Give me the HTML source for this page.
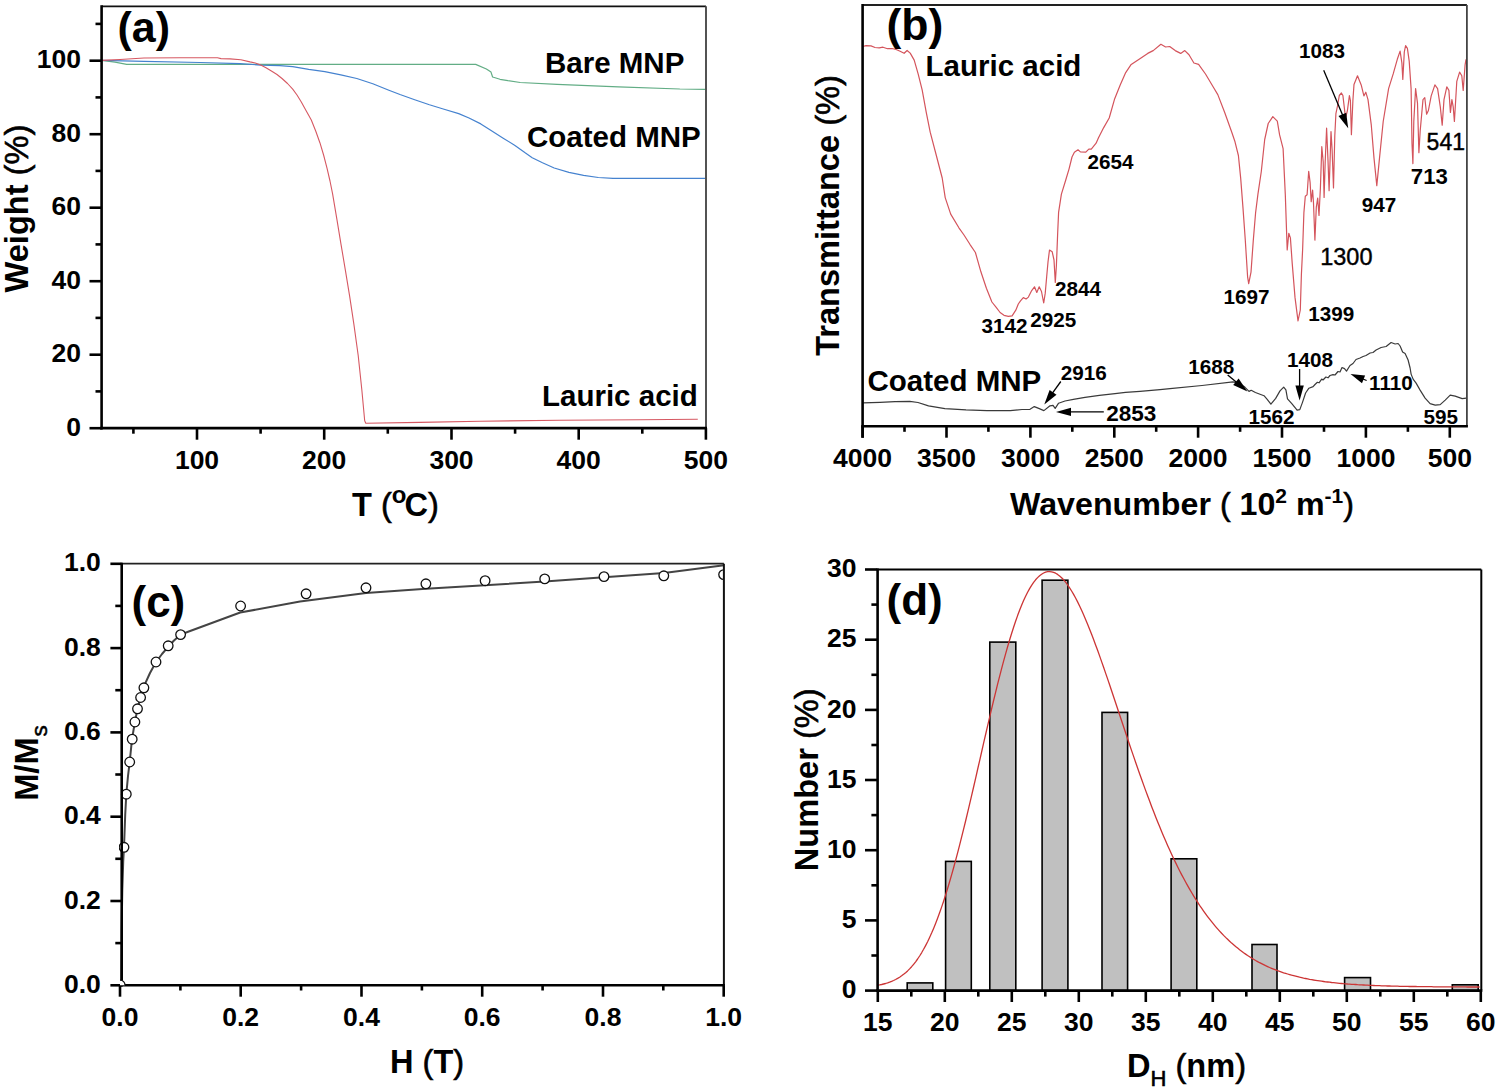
<!DOCTYPE html>
<html><head><meta charset="utf-8"><style>
html,body{margin:0;padding:0;background:#fff;overflow:hidden;}
svg{display:block;}
text{font-family:"Liberation Sans", sans-serif;}
</style></head><body>
<svg width="1498" height="1092" viewBox="0 0 1498 1092">
<rect width="1498" height="1092" fill="#fff"/>
<polyline points="101.6,60.4 115.0,62.2 126.7,64.4 200.0,64.4 300.0,64.4 400.0,64.4 475.7,64.4 486.4,69.0 491.0,72.1 492.6,77.0 500.0,79.3 507.9,80.7 520.2,82.5 557.0,84.4 618.4,86.8 679.8,89.0 705.0,89.3" fill="none" stroke="#62ad85" stroke-width="1.2" stroke-linejoin="round" />
<polyline points="101.6,60.4 144.0,61.3 200.0,62.5 240.0,63.6 260.7,65.1 279.9,65.7 292.7,66.7 308.7,69.4 324.8,71.6 340.8,74.8 356.8,78.5 372.8,83.8 388.9,90.2 400.0,94.5 414.7,99.7 429.4,104.8 444.1,109.2 458.7,113.6 469.0,118.0 480.8,123.9 491.1,130.5 502.8,137.9 514.6,145.2 524.8,152.6 532.2,157.7 542.5,162.8 554.2,168.0 568.9,172.4 583.6,175.3 598.3,177.5 613.0,178.3 705.0,178.3" fill="none" stroke="#4582cf" stroke-width="1.2" stroke-linejoin="round" />
<polyline points="101.6,60.4 120.0,59.5 144.0,58.0 180.0,57.8 217.5,57.8 221.0,58.6 230.0,58.9 240.9,59.8 250.0,61.9 255.3,63.0 260.7,65.1 266.0,67.8 271.4,71.0 277.0,74.5 282.0,78.5 287.5,83.5 292.7,89.2 297.0,95.0 301.3,102.0 306.0,110.5 311.3,120.0 315.7,131.0 319.9,142.7 323.6,155.0 327.0,168.2 330.0,181.0 332.6,193.8 336.9,219.3 341.1,244.8 345.4,270.4 349.6,295.9 353.9,324.3 358.2,355.5 361.8,389.5 364.7,420.7 365.8,423.2 420.0,422.4 480.0,421.2 560.0,420.3 640.0,419.8 697.8,419.3" fill="none" stroke="#d65862" stroke-width="1.1" stroke-linejoin="round" />
<line x1="89.5" y1="428.2" x2="101.6" y2="428.2" stroke="#000" stroke-width="2.6" />
<text x="81.0" y="435.8" font-size="26.5" text-anchor="end" font-weight="bold" fill="#000" >0</text>
<line x1="89.5" y1="354.7" x2="101.6" y2="354.7" stroke="#000" stroke-width="2.6" />
<text x="81.0" y="362.3" font-size="26.5" text-anchor="end" font-weight="bold" fill="#000" >20</text>
<line x1="89.5" y1="281.2" x2="101.6" y2="281.2" stroke="#000" stroke-width="2.6" />
<text x="81.0" y="288.8" font-size="26.5" text-anchor="end" font-weight="bold" fill="#000" >40</text>
<line x1="89.5" y1="207.7" x2="101.6" y2="207.7" stroke="#000" stroke-width="2.6" />
<text x="81.0" y="215.3" font-size="26.5" text-anchor="end" font-weight="bold" fill="#000" >60</text>
<line x1="89.5" y1="134.2" x2="101.6" y2="134.2" stroke="#000" stroke-width="2.6" />
<text x="81.0" y="141.8" font-size="26.5" text-anchor="end" font-weight="bold" fill="#000" >80</text>
<line x1="89.5" y1="60.7" x2="101.6" y2="60.7" stroke="#000" stroke-width="2.6" />
<text x="81.0" y="68.3" font-size="26.5" text-anchor="end" font-weight="bold" fill="#000" >100</text>
<line x1="95.5" y1="391.4" x2="101.6" y2="391.4" stroke="#000" stroke-width="2.6" />
<line x1="95.5" y1="317.9" x2="101.6" y2="317.9" stroke="#000" stroke-width="2.6" />
<line x1="95.5" y1="244.4" x2="101.6" y2="244.4" stroke="#000" stroke-width="2.6" />
<line x1="95.5" y1="170.9" x2="101.6" y2="170.9" stroke="#000" stroke-width="2.6" />
<line x1="95.5" y1="97.4" x2="101.6" y2="97.4" stroke="#000" stroke-width="2.6" />
<line x1="95.5" y1="23.9" x2="101.6" y2="23.9" stroke="#000" stroke-width="2.6" />
<line x1="197.0" y1="428.2" x2="197.0" y2="439.7" stroke="#000" stroke-width="2.6" />
<text x="197.0" y="468.8" font-size="26.5" text-anchor="middle" font-weight="bold" fill="#000" >100</text>
<line x1="324.2" y1="428.2" x2="324.2" y2="439.7" stroke="#000" stroke-width="2.6" />
<text x="324.2" y="468.8" font-size="26.5" text-anchor="middle" font-weight="bold" fill="#000" >200</text>
<line x1="451.5" y1="428.2" x2="451.5" y2="439.7" stroke="#000" stroke-width="2.6" />
<text x="451.5" y="468.8" font-size="26.5" text-anchor="middle" font-weight="bold" fill="#000" >300</text>
<line x1="578.7" y1="428.2" x2="578.7" y2="439.7" stroke="#000" stroke-width="2.6" />
<text x="578.7" y="468.8" font-size="26.5" text-anchor="middle" font-weight="bold" fill="#000" >400</text>
<line x1="705.9" y1="428.2" x2="705.9" y2="439.7" stroke="#000" stroke-width="2.6" />
<text x="705.9" y="468.8" font-size="26.5" text-anchor="middle" font-weight="bold" fill="#000" >500</text>
<line x1="133.4" y1="428.2" x2="133.4" y2="433.7" stroke="#000" stroke-width="2.6" />
<line x1="260.6" y1="428.2" x2="260.6" y2="433.7" stroke="#000" stroke-width="2.6" />
<line x1="387.8" y1="428.2" x2="387.8" y2="433.7" stroke="#000" stroke-width="2.6" />
<line x1="515.1" y1="428.2" x2="515.1" y2="433.7" stroke="#000" stroke-width="2.6" />
<line x1="642.3" y1="428.2" x2="642.3" y2="433.7" stroke="#000" stroke-width="2.6" />
<line x1="101.6" y1="6.3" x2="706.0" y2="6.3" stroke="#111" stroke-width="1.8" />
<line x1="706.0" y1="6.3" x2="706.0" y2="428.2" stroke="#4a4a4a" stroke-width="1.9" />
<line x1="101.6" y1="5.3" x2="101.6" y2="429.5" stroke="#000" stroke-width="2.6" />
<line x1="100.3" y1="428.2" x2="707.0" y2="428.2" stroke="#000" stroke-width="2.8" />
<text x="117.5" y="42.3" font-size="43" text-anchor="start" font-weight="bold" fill="#000" >(a)</text>
<text x="545.0" y="72.8" font-size="29.5" text-anchor="start" font-weight="bold" fill="#000" >Bare MNP</text>
<text x="527.0" y="146.6" font-size="29.5" text-anchor="start" font-weight="bold" fill="#000" >Coated MNP</text>
<text x="542.0" y="406.2" font-size="29.5" text-anchor="start" font-weight="bold" fill="#000" >Lauric acid</text>
<text x="352.0" y="516.0" font-size="32.6" text-anchor="start" font-weight="bold" fill="#000" >T <tspan font-weight="normal" stroke="#000" stroke-width="0.6">(</tspan><tspan font-size="24" dy="-13">o</tspan><tspan dy="13" dx="-2">C</tspan><tspan font-weight="normal" stroke="#000" stroke-width="0.6">)</tspan></text>
<text x="0.0" y="0.0" font-size="32.6" text-anchor="middle" font-weight="bold" fill="#000" transform="translate(27.8,208.6) rotate(-90)">Weight <tspan font-weight="normal" stroke="#000" stroke-width="0.6">(%)</tspan></text>
<polyline points="862.7,46.5 866.0,45.6 871.0,45.9 875.0,47.5 879.2,47.9 883.0,47.2 887.5,48.7 892.0,48.5 896.1,49.5 900.1,51.3 904.1,53.3 907.1,50.5 910.2,53.1 914.2,60.1 918.2,74.1 922.2,90.1 926.2,112.2 930.2,132.2 936.2,155.0 942.2,178.0 945.2,197.6 950.7,214.1 958.9,227.8 964.0,235.0 969.9,244.3 975.4,252.5 980.9,271.8 986.4,288.2 991.9,302.0 996.2,307.4 1000.1,312.5 1004.0,315.3 1008.3,316.3 1012.1,315.8 1015.8,310.2 1018.3,304.0 1020.5,300.8 1023.3,297.6 1026.1,299.0 1028.4,297.1 1031.7,290.6 1034.5,286.8 1036.8,292.4 1039.2,286.8 1041.5,291.5 1043.7,303.0 1045.2,293.4 1046.7,276.5 1048.0,262.0 1049.5,250.0 1052.2,251.8 1054.0,260.0 1055.3,282.5 1056.4,265.5 1057.7,232.6 1058.6,212.4 1061.4,194.1 1065.9,179.5 1069.0,169.1 1072.0,157.0 1074.4,152.2 1078.0,149.8 1080.4,151.9 1085.8,152.2 1088.8,149.2 1091.3,149.2 1096.1,143.2 1098.5,137.8 1103.7,127.6 1109.2,118.0 1114.7,98.7 1120.2,85.0 1125.7,72.6 1131.2,64.4 1139.5,58.9 1147.7,53.4 1153.2,50.6 1160.9,44.3 1165.6,47.0 1169.7,46.5 1175.2,50.6 1180.7,53.4 1184.8,50.6 1189.0,54.7 1193.9,63.0 1198.6,64.4 1205.5,74.0 1213.7,87.7 1217.8,94.6 1224.7,112.5 1231.6,131.7 1235.0,141.8 1238.4,155.5 1240.7,178.4 1243.0,208.1 1245.3,240.2 1247.6,276.8 1248.7,283.7 1251.0,272.2 1253.3,240.2 1255.6,212.7 1257.9,194.4 1261.3,171.5 1264.7,139.5 1268.2,123.5 1272.8,116.6 1277.3,121.2 1279.6,134.9 1283.1,148.6 1285.3,194.4 1287.2,250.0 1288.8,233.3 1290.4,237.9 1292.2,263.1 1295.0,297.4 1298.0,320.8 1300.3,310.0 1301.4,274.5 1302.6,250.0 1303.9,212.6 1305.3,196.2 1307.1,194.8 1308.7,171.4 1310.1,182.4 1311.2,201.6 1312.6,190.0 1313.5,203.0 1314.9,240.1 1316.3,207.1 1317.7,198.2 1319.0,215.4 1320.4,187.9 1321.8,146.7 1323.2,161.8 1324.1,197.5 1325.2,161.8 1326.6,128.2 1328.0,160.4 1329.1,190.7 1331.0,131.6 1332.1,149.5 1333.5,187.9 1334.8,135.7 1335.9,113.7 1337.6,105.5 1339.3,95.5 1341.4,93.0 1342.9,95.5 1344.9,112.6 1345.9,116.6 1347.4,110.6 1349.4,95.5 1350.4,100.5 1351.4,134.7 1352.9,100.5 1354.0,84.4 1357.5,75.8 1361.2,84.9 1363.9,95.9 1365.8,92.2 1368.0,99.6 1371.3,125.2 1374.0,158.1 1376.8,185.6 1379.5,158.1 1383.2,121.5 1388.6,88.6 1393.2,73.9 1397.3,59.3 1400.1,51.1 1401.9,63.0 1402.8,79.4 1404.3,52.0 1405.6,45.6 1407.4,48.3 1409.2,61.1 1411.1,88.6 1412.0,143.5 1412.9,163.6 1413.8,121.5 1415.6,88.6 1417.5,103.2 1418.9,152.7 1420.2,130.7 1423.0,99.6 1424.8,97.7 1426.6,114.2 1428.4,110.5 1431.2,95.9 1434.9,84.9 1437.6,88.6 1440.3,106.9 1442.2,125.2 1444.0,99.6 1446.8,86.8 1448.9,90.4 1450.4,112.4 1451.9,99.6 1453.2,106.9 1454.4,121.5 1456.8,81.3 1459.6,72.1 1461.8,75.8 1463.2,90.4 1465.1,64.8 1466.0,59.3" fill="none" stroke="#d4545c" stroke-width="1.2" stroke-linejoin="round" />
<polyline points="863.1,402.9 880.0,402.3 895.0,401.6 909.8,401.3 918.0,402.5 928.5,405.9 944.9,408.7 966.0,409.9 986.9,410.6 1010.3,410.6 1022.0,409.5 1030.0,409.3 1034.3,406.6 1038.7,408.4 1043.9,410.6 1050.0,405.8 1053.0,405.3 1055.2,408.4 1058.6,403.2 1065.0,401.0 1073.4,399.3 1085.0,397.3 1099.4,395.4 1115.0,393.6 1125.5,392.3 1140.0,391.3 1160.0,389.7 1170.0,388.7 1202.0,385.5 1233.0,381.8 1239.4,383.4 1244.8,387.1 1249.0,391.4 1251.2,390.3 1255.4,392.5 1264.0,395.7 1267.2,399.4 1270.9,404.2 1275.7,398.4 1280.0,390.9 1283.7,387.1 1285.9,389.8 1287.5,398.9 1291.8,403.7 1297.1,410.1 1299.8,409.6 1302.4,402.6 1305.6,393.0 1308.9,388.2 1313.1,386.6 1315.0,384.5 1317.4,382.3 1319.0,382.8 1321.7,379.1 1323.0,380.0 1325.9,377.0 1328.0,377.8 1330.0,375.5 1333.0,374.6 1335.0,375.0 1338.0,371.5 1340.0,372.0 1342.0,367.5 1344.5,368.6 1346.5,371.1 1350.0,365.5 1353.0,363.5 1356.0,359.5 1360.0,358.0 1363.1,356.5 1366.0,355.5 1370.1,353.0 1373.0,352.5 1376.1,350.0 1381.1,347.5 1386.1,346.5 1391.1,342.5 1395.1,344.0 1398.1,343.5 1400.1,346.0 1402.6,352.0 1405.1,353.5 1408.1,360.0 1410.1,368.0 1411.1,374.1 1413.1,379.1 1416.1,383.1 1420.1,390.1 1425.1,398.1 1430.1,403.6 1435.2,405.1 1440.2,404.6 1445.2,400.1 1450.2,395.1 1455.2,396.1 1462.2,398.6 1466.2,398.1" fill="none" stroke="#3a3a3a" stroke-width="1.2" stroke-linejoin="round" />
<line x1="862.6" y1="426.2" x2="862.6" y2="437.7" stroke="#000" stroke-width="2.6" />
<text x="862.6" y="467.3" font-size="26.5" text-anchor="middle" font-weight="bold" fill="#000" >4000</text>
<line x1="946.5" y1="426.2" x2="946.5" y2="437.7" stroke="#000" stroke-width="2.6" />
<text x="946.5" y="467.3" font-size="26.5" text-anchor="middle" font-weight="bold" fill="#000" >3500</text>
<line x1="1030.4" y1="426.2" x2="1030.4" y2="437.7" stroke="#000" stroke-width="2.6" />
<text x="1030.4" y="467.3" font-size="26.5" text-anchor="middle" font-weight="bold" fill="#000" >3000</text>
<line x1="1114.3" y1="426.2" x2="1114.3" y2="437.7" stroke="#000" stroke-width="2.6" />
<text x="1114.3" y="467.3" font-size="26.5" text-anchor="middle" font-weight="bold" fill="#000" >2500</text>
<line x1="1198.1" y1="426.2" x2="1198.1" y2="437.7" stroke="#000" stroke-width="2.6" />
<text x="1198.1" y="467.3" font-size="26.5" text-anchor="middle" font-weight="bold" fill="#000" >2000</text>
<line x1="1282.0" y1="426.2" x2="1282.0" y2="437.7" stroke="#000" stroke-width="2.6" />
<text x="1282.0" y="467.3" font-size="26.5" text-anchor="middle" font-weight="bold" fill="#000" >1500</text>
<line x1="1365.9" y1="426.2" x2="1365.9" y2="437.7" stroke="#000" stroke-width="2.6" />
<text x="1365.9" y="467.3" font-size="26.5" text-anchor="middle" font-weight="bold" fill="#000" >1000</text>
<line x1="1449.8" y1="426.2" x2="1449.8" y2="437.7" stroke="#000" stroke-width="2.6" />
<text x="1449.8" y="467.3" font-size="26.5" text-anchor="middle" font-weight="bold" fill="#000" >500</text>
<line x1="904.5" y1="426.2" x2="904.5" y2="431.8" stroke="#000" stroke-width="2.6" />
<line x1="988.4" y1="426.2" x2="988.4" y2="431.8" stroke="#000" stroke-width="2.6" />
<line x1="1072.3" y1="426.2" x2="1072.3" y2="431.8" stroke="#000" stroke-width="2.6" />
<line x1="1156.2" y1="426.2" x2="1156.2" y2="431.8" stroke="#000" stroke-width="2.6" />
<line x1="1240.1" y1="426.2" x2="1240.1" y2="431.8" stroke="#000" stroke-width="2.6" />
<line x1="1324.0" y1="426.2" x2="1324.0" y2="431.8" stroke="#000" stroke-width="2.6" />
<line x1="1407.9" y1="426.2" x2="1407.9" y2="431.8" stroke="#000" stroke-width="2.6" />
<line x1="862.6" y1="5.0" x2="1466.9" y2="5.0" stroke="#222" stroke-width="1.8" />
<line x1="1466.9" y1="5.0" x2="1466.9" y2="426.2" stroke="#444" stroke-width="1.8" />
<line x1="862.6" y1="4.0" x2="862.6" y2="437.7" stroke="#000" stroke-width="2.6" />
<line x1="861.3" y1="426.2" x2="1467.9" y2="426.2" stroke="#000" stroke-width="2.6" />
<text x="886.5" y="39.5" font-size="44.5" text-anchor="start" font-weight="bold" fill="#000" >(b)</text>
<text x="925.6" y="76.0" font-size="29.5" text-anchor="start" font-weight="bold" fill="#000" >Lauric acid</text>
<text x="867.5" y="391.2" font-size="29.5" text-anchor="start" font-weight="bold" fill="#000" >Coated MNP</text>
<text x="1010.0" y="514.5" font-size="32.2" text-anchor="start" font-weight="bold" fill="#000" >Wavenumber <tspan font-weight="normal" stroke="#000" stroke-width="0.6">(</tspan> 10<tspan font-size="21" dy="-12">2</tspan><tspan dy="12"> m</tspan><tspan font-size="21" dy="-12">-1</tspan><tspan dy="12" font-weight="normal" stroke="#000" stroke-width="0.6">)</tspan></text>
<text x="0.0" y="0.0" font-size="32.6" text-anchor="middle" font-weight="bold" fill="#000" transform="translate(839.3,215.5) rotate(-90)">Transmittance <tspan font-weight="normal" stroke="#000" stroke-width="0.6">(%)</tspan></text>
<text x="981.5" y="332.6" font-size="20.7" text-anchor="start" font-weight="bold" fill="#000" >3142</text>
<text x="1030.3" y="326.5" font-size="20.7" text-anchor="start" font-weight="bold" fill="#000" >2925</text>
<text x="1055.0" y="295.7" font-size="20.7" text-anchor="start" font-weight="bold" fill="#000" >2844</text>
<text x="1087.6" y="168.8" font-size="20.7" text-anchor="start" font-weight="bold" fill="#000" >2654</text>
<text x="1223.6" y="303.8" font-size="20.7" text-anchor="start" font-weight="bold" fill="#000" >1697</text>
<text x="1308.2" y="321.4" font-size="20.7" text-anchor="start" font-weight="bold" fill="#000" >1399</text>
<text x="1299.1" y="57.7" font-size="20.7" text-anchor="start" font-weight="bold" fill="#000" >1083</text>
<text x="1361.7" y="212.2" font-size="20.7" text-anchor="start" font-weight="bold" fill="#000" >947</text>
<text x="1410.8" y="183.6" font-size="22.2" text-anchor="start" font-weight="bold" fill="#000" >713</text>
<text x="1320.2" y="265.2" font-size="23.5" text-anchor="start" font-weight="normal" fill="#000" stroke="#000" stroke-width="0.4">1300</text>
<text x="1426.6" y="149.6" font-size="23" text-anchor="start" font-weight="normal" fill="#000" stroke="#000" stroke-width="0.4">541</text>
<text x="1060.8" y="379.7" font-size="20.7" text-anchor="start" font-weight="bold" fill="#000" >2916</text>
<text x="1106.3" y="421.0" font-size="22.5" text-anchor="start" font-weight="bold" fill="#000" >2853</text>
<text x="1188.2" y="374.3" font-size="20.7" text-anchor="start" font-weight="bold" fill="#000" >1688</text>
<text x="1248.5" y="424.0" font-size="20.7" text-anchor="start" font-weight="bold" fill="#000" >1562</text>
<text x="1287.0" y="366.8" font-size="20.7" text-anchor="start" font-weight="bold" fill="#000" >1408</text>
<text x="1369.1" y="389.6" font-size="20.7" text-anchor="start" font-weight="bold" fill="#000" >1110</text>
<text x="1423.6" y="423.6" font-size="20.7" text-anchor="start" font-weight="bold" fill="#000" >595</text>
<line x1="1323.7" y1="70.3" x2="1343.1" y2="116.2" stroke="#000" stroke-width="1.3" />
<polygon points="1348.2,128.2 1338.5,116.0 1346.2,112.7" fill="#000"/>
<line x1="1060.8" y1="381.5" x2="1051.9" y2="393.9" stroke="#000" stroke-width="1.3" />
<polygon points="1044.3,404.5 1049.6,389.9 1056.5,394.8" fill="#000"/>
<line x1="1103.8" y1="411.9" x2="1069.0" y2="411.9" stroke="#000" stroke-width="1.3" />
<polygon points="1056.0,411.9 1071.0,407.7 1071.0,416.1" fill="#000"/>
<line x1="1227.7" y1="374.9" x2="1237.4" y2="383.1" stroke="#000" stroke-width="1.3" />
<polygon points="1247.4,391.4 1233.2,385.0 1238.6,378.5" fill="#000"/>
<line x1="1299.6" y1="369.0" x2="1299.6" y2="387.5" stroke="#000" stroke-width="1.3" />
<polygon points="1299.6,400.5 1295.4,385.5 1303.8,385.5" fill="#000"/>
<line x1="1366.6" y1="380.5" x2="1361.7" y2="378.5" stroke="#000" stroke-width="1.3" />
<polygon points="1350.5,374.1 1365.1,375.4 1362.0,383.2" fill="#000"/>
<polyline points="121.2,985.0 121.6,930.0 122.3,890.0 123.2,862.0 124.0,847.3 125.2,815.0 126.3,794.2 128.0,776.0 129.7,762.0 132.0,739.2 134.9,722.0 137.5,708.8 140.4,697.8 144.0,686.2 150.0,673.0 156.0,662.1 162.0,654.0 168.1,646.8 174.0,640.5 180.5,634.8 188.1,631.8 240.2,612.5 300.0,601.6 366.0,593.0 426.0,588.7 485.0,585.3 544.7,581.5 604.0,577.2 664.0,572.9 724.0,565.2" fill="none" stroke="#444" stroke-width="2.0" stroke-linejoin="round" />
<clipPath id="cc"><rect x="119.0" y="560" width="604.7" height="425.4"/></clipPath>
<g clip-path="url(#cc)">
<circle cx="124.0" cy="847.3" r="4.8" fill="#fff" stroke="#111" stroke-width="1.3"/>
<circle cx="126.3" cy="794.2" r="4.8" fill="#fff" stroke="#111" stroke-width="1.3"/>
<circle cx="129.7" cy="762.0" r="4.8" fill="#fff" stroke="#111" stroke-width="1.3"/>
<circle cx="132.2" cy="739.2" r="4.8" fill="#fff" stroke="#111" stroke-width="1.3"/>
<circle cx="134.9" cy="722.0" r="4.8" fill="#fff" stroke="#111" stroke-width="1.3"/>
<circle cx="137.5" cy="708.8" r="4.8" fill="#fff" stroke="#111" stroke-width="1.3"/>
<circle cx="140.6" cy="697.5" r="4.8" fill="#fff" stroke="#111" stroke-width="1.3"/>
<circle cx="143.9" cy="687.8" r="4.8" fill="#fff" stroke="#111" stroke-width="1.3"/>
<circle cx="156.0" cy="662.0" r="4.8" fill="#fff" stroke="#111" stroke-width="1.3"/>
<circle cx="168.2" cy="645.8" r="4.8" fill="#fff" stroke="#111" stroke-width="1.3"/>
<circle cx="180.6" cy="634.6" r="4.8" fill="#fff" stroke="#111" stroke-width="1.3"/>
<circle cx="240.6" cy="606.0" r="4.8" fill="#fff" stroke="#111" stroke-width="1.3"/>
<circle cx="306.1" cy="593.8" r="4.8" fill="#fff" stroke="#111" stroke-width="1.3"/>
<circle cx="366.0" cy="587.8" r="4.8" fill="#fff" stroke="#111" stroke-width="1.3"/>
<circle cx="425.9" cy="583.8" r="4.8" fill="#fff" stroke="#111" stroke-width="1.3"/>
<circle cx="485.1" cy="580.7" r="4.8" fill="#fff" stroke="#111" stroke-width="1.3"/>
<circle cx="544.7" cy="578.9" r="4.8" fill="#fff" stroke="#111" stroke-width="1.3"/>
<circle cx="604.0" cy="576.6" r="4.8" fill="#fff" stroke="#111" stroke-width="1.3"/>
<circle cx="663.8" cy="575.8" r="4.8" fill="#fff" stroke="#111" stroke-width="1.3"/>
<circle cx="723.6" cy="574.6" r="4.8" fill="#fff" stroke="#111" stroke-width="1.3"/>
</g>
<line x1="110.4" y1="985.3" x2="121.7" y2="985.3" stroke="#000" stroke-width="2.6" />
<text x="100.8" y="992.9" font-size="26.5" text-anchor="end" font-weight="bold" fill="#000" >0.0</text>
<line x1="110.4" y1="901.0" x2="121.7" y2="901.0" stroke="#000" stroke-width="2.6" />
<text x="100.8" y="908.6" font-size="26.5" text-anchor="end" font-weight="bold" fill="#000" >0.2</text>
<line x1="110.4" y1="816.7" x2="121.7" y2="816.7" stroke="#000" stroke-width="2.6" />
<text x="100.8" y="824.3" font-size="26.5" text-anchor="end" font-weight="bold" fill="#000" >0.4</text>
<line x1="110.4" y1="732.4" x2="121.7" y2="732.4" stroke="#000" stroke-width="2.6" />
<text x="100.8" y="740.0" font-size="26.5" text-anchor="end" font-weight="bold" fill="#000" >0.6</text>
<line x1="110.4" y1="648.1" x2="121.7" y2="648.1" stroke="#000" stroke-width="2.6" />
<text x="100.8" y="655.7" font-size="26.5" text-anchor="end" font-weight="bold" fill="#000" >0.8</text>
<line x1="110.4" y1="563.8" x2="121.7" y2="563.8" stroke="#000" stroke-width="2.6" />
<text x="100.8" y="571.4" font-size="26.5" text-anchor="end" font-weight="bold" fill="#000" >1.0</text>
<line x1="115.3" y1="943.1" x2="121.7" y2="943.1" stroke="#000" stroke-width="2.6" />
<line x1="115.3" y1="858.8" x2="121.7" y2="858.8" stroke="#000" stroke-width="2.6" />
<line x1="115.3" y1="774.5" x2="121.7" y2="774.5" stroke="#000" stroke-width="2.6" />
<line x1="115.3" y1="690.2" x2="121.7" y2="690.2" stroke="#000" stroke-width="2.6" />
<line x1="115.3" y1="605.9" x2="121.7" y2="605.9" stroke="#000" stroke-width="2.6" />
<line x1="120.0" y1="985.3" x2="120.0" y2="996.7" stroke="#000" stroke-width="2.6" />
<text x="120.0" y="1026.0" font-size="26.5" text-anchor="middle" font-weight="bold" fill="#000" >0.0</text>
<line x1="240.7" y1="985.3" x2="240.7" y2="996.7" stroke="#000" stroke-width="2.6" />
<text x="240.7" y="1026.0" font-size="26.5" text-anchor="middle" font-weight="bold" fill="#000" >0.2</text>
<line x1="361.5" y1="985.3" x2="361.5" y2="996.7" stroke="#000" stroke-width="2.6" />
<text x="361.5" y="1026.0" font-size="26.5" text-anchor="middle" font-weight="bold" fill="#000" >0.4</text>
<line x1="482.2" y1="985.3" x2="482.2" y2="996.7" stroke="#000" stroke-width="2.6" />
<text x="482.2" y="1026.0" font-size="26.5" text-anchor="middle" font-weight="bold" fill="#000" >0.6</text>
<line x1="603.0" y1="985.3" x2="603.0" y2="996.7" stroke="#000" stroke-width="2.6" />
<text x="603.0" y="1026.0" font-size="26.5" text-anchor="middle" font-weight="bold" fill="#000" >0.8</text>
<line x1="723.7" y1="985.3" x2="723.7" y2="996.7" stroke="#000" stroke-width="2.6" />
<text x="723.7" y="1026.0" font-size="26.5" text-anchor="middle" font-weight="bold" fill="#000" >1.0</text>
<line x1="180.4" y1="985.3" x2="180.4" y2="990.5" stroke="#000" stroke-width="2.6" />
<line x1="301.1" y1="985.3" x2="301.1" y2="990.5" stroke="#000" stroke-width="2.6" />
<line x1="421.9" y1="985.3" x2="421.9" y2="990.5" stroke="#000" stroke-width="2.6" />
<line x1="542.6" y1="985.3" x2="542.6" y2="990.5" stroke="#000" stroke-width="2.6" />
<line x1="663.3" y1="985.3" x2="663.3" y2="990.5" stroke="#000" stroke-width="2.6" />
<line x1="121.7" y1="563.7" x2="723.9" y2="563.7" stroke="#222" stroke-width="1.8" />
<line x1="723.9" y1="563.7" x2="723.9" y2="985.3" stroke="#111" stroke-width="2.0" />
<line x1="121.7" y1="562.7" x2="121.7" y2="986.6" stroke="#000" stroke-width="2.6" />
<line x1="120.4" y1="985.3" x2="724.9" y2="985.3" stroke="#000" stroke-width="2.6" />
<clipPath id="c0"><rect x="120.0" y="960" width="20" height="25.3"/></clipPath>
<circle cx="120.2" cy="985" r="4.8" fill="#fff" stroke="#111" stroke-width="1.3" clip-path="url(#c0)"/>
<text x="131.5" y="617.0" font-size="44" text-anchor="start" font-weight="bold" fill="#000" >(c)</text>
<text x="390.0" y="1072.6" font-size="32.6" text-anchor="start" font-weight="bold" fill="#000" >H <tspan font-weight="normal" stroke="#000" stroke-width="0.6">(</tspan>T<tspan font-weight="normal" stroke="#000" stroke-width="0.6">)</tspan></text>
<text x="0.0" y="0.0" font-size="32.6" text-anchor="middle" font-weight="bold" fill="#000" transform="translate(38.2,763) rotate(-90)">M/M<tspan font-size="22.5" font-weight="normal" stroke="#000" stroke-width="0.5" dx="1" dy="8.6">s</tspan></text>
<rect x="907.2" y="982.9" width="25.6" height="7.7" fill="#c0c0c0" stroke="#000" stroke-width="1.6"/>
<rect x="945.6" y="861.4" width="25.7" height="129.2" fill="#c0c0c0" stroke="#000" stroke-width="1.6"/>
<rect x="989.8" y="642.1" width="26.0" height="348.5" fill="#c0c0c0" stroke="#000" stroke-width="1.6"/>
<rect x="1042.1" y="580.2" width="25.8" height="410.4" fill="#c0c0c0" stroke="#000" stroke-width="1.6"/>
<rect x="1102.0" y="712.4" width="25.6" height="278.2" fill="#c0c0c0" stroke="#000" stroke-width="1.6"/>
<rect x="1171.1" y="858.8" width="25.7" height="131.8" fill="#c0c0c0" stroke="#000" stroke-width="1.6"/>
<rect x="1252.0" y="944.5" width="25.0" height="46.1" fill="#c0c0c0" stroke="#000" stroke-width="1.6"/>
<rect x="1344.6" y="977.6" width="25.9" height="13.0" fill="#c0c0c0" stroke="#000" stroke-width="1.6"/>
<rect x="1452.3" y="984.8" width="25.9" height="5.8" fill="#c0c0c0" stroke="#000" stroke-width="1.6"/>
<polyline points="877.6,985.2 879.6,984.9 881.6,984.5 883.6,984.0 885.6,983.5 887.6,982.9 889.6,982.2 891.6,981.4 893.6,980.5 895.6,979.5 897.6,978.4 899.6,977.2 901.6,975.8 903.6,974.3 905.6,972.7 907.6,970.9 909.6,968.9 911.6,966.7 913.6,964.3 915.6,961.8 917.6,959.0 919.6,956.0 921.6,952.8 923.6,949.3 925.6,945.6 927.6,941.7 929.6,937.5 931.6,933.1 933.6,928.4 935.6,923.5 937.6,918.3 939.6,912.8 941.6,907.1 943.6,901.2 945.6,895.0 947.6,888.5 949.6,881.8 951.6,874.9 953.6,867.8 955.6,860.4 957.6,852.9 959.6,845.2 961.6,837.2 963.6,829.2 965.6,821.0 967.6,812.6 969.6,804.1 971.6,795.6 973.6,787.0 975.6,778.3 977.6,769.5 979.6,760.8 981.6,752.0 983.6,743.2 985.6,734.5 987.6,725.9 989.6,717.3 991.6,708.8 993.6,700.5 995.6,692.3 997.6,684.2 999.6,676.3 1001.6,668.6 1003.6,661.1 1005.6,653.8 1007.6,646.8 1009.6,640.0 1011.6,633.5 1013.6,627.2 1015.6,621.3 1017.6,615.6 1019.6,610.3 1021.6,605.3 1023.6,600.6 1025.6,596.3 1027.6,592.3 1029.6,588.6 1031.6,585.3 1033.6,582.4 1035.6,579.8 1037.6,577.6 1039.6,575.7 1041.6,574.2 1043.6,573.0 1045.6,572.2 1047.6,571.7 1049.6,571.6 1051.6,571.8 1053.6,572.4 1055.6,573.2 1057.6,574.4 1059.6,575.9 1061.6,577.7 1063.6,579.8 1065.6,582.2 1067.6,584.9 1069.6,587.8 1071.6,591.0 1073.6,594.4 1075.6,598.0 1077.6,601.9 1079.6,606.0 1081.6,610.3 1083.6,614.7 1085.6,619.4 1087.6,624.2 1089.6,629.2 1091.6,634.3 1093.6,639.5 1095.6,644.9 1097.6,650.3 1099.6,655.9 1101.6,661.6 1103.6,667.3 1105.6,673.1 1107.6,678.9 1109.6,684.8 1111.6,690.8 1113.6,696.8 1115.6,702.8 1117.6,708.8 1119.6,714.8 1121.6,720.8 1123.6,726.8 1125.6,732.8 1127.6,738.7 1129.6,744.7 1131.6,750.6 1133.6,756.4 1135.6,762.2 1137.6,768.0 1139.6,773.7 1141.6,779.3 1143.6,784.9 1145.6,790.4 1147.6,795.8 1149.6,801.1 1151.6,806.4 1153.6,811.6 1155.6,816.7 1157.6,821.7 1159.6,826.6 1161.6,831.4 1163.6,836.2 1165.6,840.8 1167.6,845.4 1169.6,849.8 1171.6,854.2 1173.6,858.5 1175.6,862.6 1177.6,866.7 1179.6,870.7 1181.6,874.6 1183.6,878.3 1185.6,882.0 1187.6,885.6 1189.6,889.1 1191.6,892.5 1193.6,895.9 1195.6,899.1 1197.6,902.2 1199.6,905.3 1201.6,908.2 1203.6,911.1 1205.6,913.9 1207.6,916.6 1209.6,919.2 1211.6,921.7 1213.6,924.2 1215.6,926.6 1217.6,928.9 1219.6,931.1 1221.6,933.3 1223.6,935.4 1225.6,937.4 1227.6,939.3 1229.6,941.2 1231.6,943.1 1233.6,944.8 1235.6,946.5 1237.6,948.1 1239.6,949.7 1241.6,951.2 1243.6,952.7 1245.6,954.1 1247.6,955.5 1249.6,956.8 1251.6,958.1 1253.6,959.3 1255.6,960.5 1257.6,961.6 1259.6,962.7 1261.6,963.7 1263.6,964.7 1265.6,965.7 1267.6,966.6 1269.6,967.5 1271.6,968.3 1273.6,969.1 1275.6,969.9 1277.6,970.7 1279.6,971.4 1281.6,972.1 1283.6,972.8 1285.6,973.4 1287.6,974.0 1289.6,974.6 1291.6,975.2 1293.6,975.7 1295.6,976.2 1297.6,976.7 1299.6,977.2 1301.6,977.6 1303.6,978.1 1305.6,978.5 1307.6,978.9 1309.6,979.3 1311.6,979.6 1313.6,980.0 1315.6,980.3 1317.6,980.6 1319.6,980.9 1321.6,981.2 1323.6,981.5 1325.6,981.8 1327.6,982.0 1329.6,982.2 1331.6,982.5 1333.6,982.7 1335.6,982.9 1337.6,983.1 1339.6,983.3 1341.6,983.5 1343.6,983.7 1345.6,983.8 1347.6,984.0 1349.6,984.1 1351.6,984.3 1353.6,984.4 1355.6,984.5 1357.6,984.7 1359.6,984.8 1361.6,984.9 1363.6,985.0 1365.6,985.1 1367.6,985.2 1369.6,985.3 1371.6,985.4 1373.6,985.5 1375.6,985.6 1377.6,985.6 1379.6,985.7 1381.6,985.8 1383.6,985.8 1385.6,985.9 1387.6,986.0 1389.6,986.0 1391.6,986.1 1393.6,986.1 1395.6,986.2 1397.6,986.2 1399.6,986.3 1401.6,986.3 1403.6,986.3 1405.6,986.4 1407.6,986.4 1409.6,986.5 1411.6,986.5 1413.6,986.5 1415.6,986.5 1417.6,986.6 1419.6,986.6 1421.6,986.6 1423.6,986.6 1425.6,986.7 1427.6,986.7 1429.6,986.7 1431.6,986.7 1433.6,986.8 1435.6,986.8 1437.6,986.8 1439.6,986.8 1441.6,986.8 1443.6,986.8 1445.6,986.8 1447.6,986.9 1449.6,986.9 1451.6,986.9 1453.6,986.9 1455.6,986.9 1457.6,986.9 1459.6,986.9 1461.6,986.9 1463.6,986.9 1465.6,986.9 1467.6,987.0 1469.6,987.0 1471.6,987.0 1473.6,987.0 1475.6,987.0 1477.6,987.0 1479.6,987.0" fill="none" stroke="#cc3535" stroke-width="1.3" stroke-linejoin="round" />
<line x1="865.0" y1="990.6" x2="877.6" y2="990.6" stroke="#000" stroke-width="2.6" />
<text x="856.5" y="998.2" font-size="26.5" text-anchor="end" font-weight="bold" fill="#000" >0</text>
<line x1="865.0" y1="920.4" x2="877.6" y2="920.4" stroke="#000" stroke-width="2.6" />
<text x="856.5" y="928.0" font-size="26.5" text-anchor="end" font-weight="bold" fill="#000" >5</text>
<line x1="865.0" y1="850.2" x2="877.6" y2="850.2" stroke="#000" stroke-width="2.6" />
<text x="856.5" y="857.8" font-size="26.5" text-anchor="end" font-weight="bold" fill="#000" >10</text>
<line x1="865.0" y1="780.0" x2="877.6" y2="780.0" stroke="#000" stroke-width="2.6" />
<text x="856.5" y="787.6" font-size="26.5" text-anchor="end" font-weight="bold" fill="#000" >15</text>
<line x1="865.0" y1="709.9" x2="877.6" y2="709.9" stroke="#000" stroke-width="2.6" />
<text x="856.5" y="717.5" font-size="26.5" text-anchor="end" font-weight="bold" fill="#000" >20</text>
<line x1="865.0" y1="639.7" x2="877.6" y2="639.7" stroke="#000" stroke-width="2.6" />
<text x="856.5" y="647.3" font-size="26.5" text-anchor="end" font-weight="bold" fill="#000" >25</text>
<line x1="865.0" y1="569.5" x2="877.6" y2="569.5" stroke="#000" stroke-width="2.6" />
<text x="856.5" y="577.1" font-size="26.5" text-anchor="end" font-weight="bold" fill="#000" >30</text>
<line x1="871.4" y1="955.5" x2="877.6" y2="955.5" stroke="#000" stroke-width="2.6" />
<line x1="871.4" y1="885.3" x2="877.6" y2="885.3" stroke="#000" stroke-width="2.6" />
<line x1="871.4" y1="815.1" x2="877.6" y2="815.1" stroke="#000" stroke-width="2.6" />
<line x1="871.4" y1="745.0" x2="877.6" y2="745.0" stroke="#000" stroke-width="2.6" />
<line x1="871.4" y1="674.8" x2="877.6" y2="674.8" stroke="#000" stroke-width="2.6" />
<line x1="871.4" y1="604.6" x2="877.6" y2="604.6" stroke="#000" stroke-width="2.6" />
<line x1="877.8" y1="990.6" x2="877.8" y2="1002.0" stroke="#000" stroke-width="2.6" />
<text x="877.8" y="1031.4" font-size="26.5" text-anchor="middle" font-weight="bold" fill="#000" >15</text>
<line x1="944.8" y1="990.6" x2="944.8" y2="1002.0" stroke="#000" stroke-width="2.6" />
<text x="944.8" y="1031.4" font-size="26.5" text-anchor="middle" font-weight="bold" fill="#000" >20</text>
<line x1="1011.8" y1="990.6" x2="1011.8" y2="1002.0" stroke="#000" stroke-width="2.6" />
<text x="1011.8" y="1031.4" font-size="26.5" text-anchor="middle" font-weight="bold" fill="#000" >25</text>
<line x1="1078.8" y1="990.6" x2="1078.8" y2="1002.0" stroke="#000" stroke-width="2.6" />
<text x="1078.8" y="1031.4" font-size="26.5" text-anchor="middle" font-weight="bold" fill="#000" >30</text>
<line x1="1145.8" y1="990.6" x2="1145.8" y2="1002.0" stroke="#000" stroke-width="2.6" />
<text x="1145.8" y="1031.4" font-size="26.5" text-anchor="middle" font-weight="bold" fill="#000" >35</text>
<line x1="1212.8" y1="990.6" x2="1212.8" y2="1002.0" stroke="#000" stroke-width="2.6" />
<text x="1212.8" y="1031.4" font-size="26.5" text-anchor="middle" font-weight="bold" fill="#000" >40</text>
<line x1="1279.8" y1="990.6" x2="1279.8" y2="1002.0" stroke="#000" stroke-width="2.6" />
<text x="1279.8" y="1031.4" font-size="26.5" text-anchor="middle" font-weight="bold" fill="#000" >45</text>
<line x1="1346.8" y1="990.6" x2="1346.8" y2="1002.0" stroke="#000" stroke-width="2.6" />
<text x="1346.8" y="1031.4" font-size="26.5" text-anchor="middle" font-weight="bold" fill="#000" >50</text>
<line x1="1413.8" y1="990.6" x2="1413.8" y2="1002.0" stroke="#000" stroke-width="2.6" />
<text x="1413.8" y="1031.4" font-size="26.5" text-anchor="middle" font-weight="bold" fill="#000" >55</text>
<line x1="1480.8" y1="990.6" x2="1480.8" y2="1002.0" stroke="#000" stroke-width="2.6" />
<text x="1480.8" y="1031.4" font-size="26.5" text-anchor="middle" font-weight="bold" fill="#000" >60</text>
<line x1="911.3" y1="990.6" x2="911.3" y2="996.6" stroke="#000" stroke-width="2.6" />
<line x1="978.3" y1="990.6" x2="978.3" y2="996.6" stroke="#000" stroke-width="2.6" />
<line x1="1045.3" y1="990.6" x2="1045.3" y2="996.6" stroke="#000" stroke-width="2.6" />
<line x1="1112.3" y1="990.6" x2="1112.3" y2="996.6" stroke="#000" stroke-width="2.6" />
<line x1="1179.3" y1="990.6" x2="1179.3" y2="996.6" stroke="#000" stroke-width="2.6" />
<line x1="1246.3" y1="990.6" x2="1246.3" y2="996.6" stroke="#000" stroke-width="2.6" />
<line x1="1313.3" y1="990.6" x2="1313.3" y2="996.6" stroke="#000" stroke-width="2.6" />
<line x1="1380.3" y1="990.6" x2="1380.3" y2="996.6" stroke="#000" stroke-width="2.6" />
<line x1="1447.3" y1="990.6" x2="1447.3" y2="996.6" stroke="#000" stroke-width="2.6" />
<line x1="877.6" y1="569.4" x2="1481.3" y2="569.4" stroke="#000" stroke-width="2.0" />
<line x1="1481.3" y1="569.4" x2="1481.3" y2="990.6" stroke="#000" stroke-width="2.0" />
<line x1="877.6" y1="568.4" x2="877.6" y2="991.9" stroke="#000" stroke-width="2.6" />
<line x1="876.3" y1="990.6" x2="1482.3" y2="990.6" stroke="#000" stroke-width="2.8" />
<text x="886.5" y="615.0" font-size="44" text-anchor="start" font-weight="bold" fill="#000" >(d)</text>
<text x="1127.0" y="1076.5" font-size="32.6" text-anchor="start" font-weight="bold" fill="#000" >D<tspan font-size="22" font-weight="normal" stroke="#000" stroke-width="0.6" dy="9">H</tspan><tspan dy="-9"> </tspan><tspan font-weight="normal" stroke="#000" stroke-width="0.6">(</tspan>nm<tspan font-weight="normal" stroke="#000" stroke-width="0.6">)</tspan></text>
<text x="0.0" y="0.0" font-size="32.6" text-anchor="middle" font-weight="bold" fill="#000" transform="translate(817.6,779.8) rotate(-90)">Number <tspan font-weight="normal" stroke="#000" stroke-width="0.6">(%)</tspan></text>
</svg>
</body></html>
